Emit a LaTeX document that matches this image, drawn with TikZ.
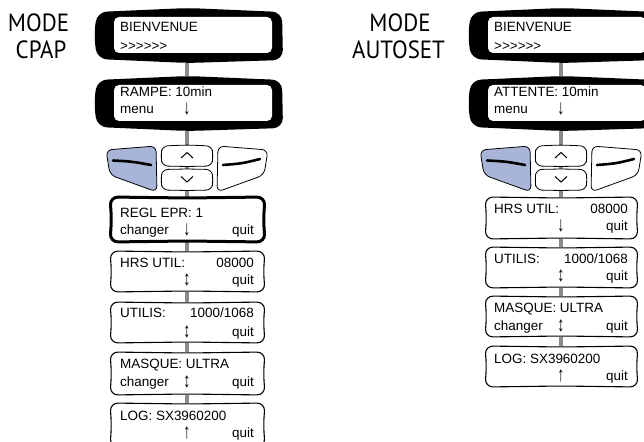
\documentclass[tikz,border=0pt]{standalone}
\usepackage{graphicx}
\usepackage{fontspec}
\setmainfont{Liberation Sans}
\newfontfamily\headfont{PT Sans}
\usetikzlibrary{fit}
\pgfdeclarelayer{bg}
\pgfsetlayers{bg,main}
\definecolor{keyblue}{RGB}{168,180,216}
\definecolor{linkgray}{RGB}{140,140,140}
\newcommand\arr[1]{\scalebox{1.05}[1.55]{#1}}
\newcommand\gts{>\kern0pt>\kern0pt>\kern0pt>\kern0pt>\kern0pt>}
\tikzset{
  lcd/.style={font=\fontsize{13.5}{16}\selectfont, inner sep=0pt},
  lt/.style={lcd, anchor=base west},
  rt/.style={lcd, anchor=base east},
  ct/.style={lcd, anchor=base},
  heading/.style={font=\headfont\fontsize{25}{28}\selectfont, inner sep=0pt, anchor=base, xscale=0.92},
  frame/.style={draw=none, inner sep=0pt, rectangle},
  link/.style={draw=linkgray, line width=4.5bp},
  bezel/.style={fill=black, rounded corners=10bp},
  face/.style={fill=white, rounded corners=5bp},
  panel/.style={draw=black, fill=white, line width=1.1bp, rounded corners=8bp},
  panelbold/.style={panel, line width=3bp},
  key/.style={draw=black, line width=0.8bp, rounded corners=6bp},
  bar/.style={line width=2.6bp, line cap=round},
  chev/.style={line width=1bp},
}
\newcommand\lcdscreen[3]{%
  \path[bezel] ({#2+2},{#3+4}) -- ({#2+93},{#3}) -- ({#2+187},{#3+4}) -- ({#2+188},{#3+52})
     -- ({#2+93},{#3+55}) -- ({#2+2},{#3+51}) -- ({#2-1},{#3+27}) -- cycle;
  \path[face] ({#2+19},{#3+9}) rectangle ({#2+177},{#3+45});
  \node[frame, fit={(#2,#3) ({#2+187},{#3+55})}] (#1) {};
}
\newcommand\infopanel[6]{%
  \path[#1] (#3,#4) -- ({(#3+#5)/2},{#4+1}) -- (#5,#4) -- ({#5-1.5},{(#4+#6)/2}) -- (#5,#6)
     -- ({(#3+#5)/2},{#6-1}) -- (#3,#6) -- ({#3+1.5},{(#4+#6)/2}) -- cycle;
  \node[frame, fit={(#3,#4) (#5,#6)}] (#2) {};
}
\newcommand\keypad[1]{%
  \path[key, fill=keyblue] (106,150) -- (156,146) -- (157,192) -- (110,175) -- cycle;
  \node[frame, fit={(106,146) (157,192)}] (#1l) {};
  \draw[bar] (113,160.5) .. controls (132,161.5) .. (151,165);
  \path[key, fill=white] (268,150) -- (218,146) -- (217,192) -- (264,175) -- cycle;
  \node[frame, fit={(217,146) (268,192)}] (#1r) {};
  \draw[bar] (223,165) .. controls (242,163.5) .. (260,159);
  \path[key, fill=white] (162,146) -- (187,145) -- (212,146) -- (213,156) -- (212,166)
     -- (187,166.5) -- (162,166) -- (161,156) -- cycle;
  \node[frame, fit={(161,145) (213,166.5)}] (#1u) {};
  \draw[chev] (181,158) -- (187,152.5) -- (193,158);
  \path[key, fill=white] (162,169.5) -- (187,169) -- (212,169.5) -- (213,180) -- (212,190)
     -- (187,190.5) -- (162,190) -- (161,180) -- cycle;
  \node[frame, fit={(161,169) (213,190.5)}] (#1d) {};
  \draw[chev] (181,176.5) -- (187,182) -- (193,176.5);
}
\begin{document}
\begin{tikzpicture}[x=1bp,y=-1bp]
\useasboundingbox (0,0) rectangle (644,442);
\clip (0,0) rectangle (644,442);

% headings
\node[heading] (hA1) at (38.5,32) {MODE};
\node[heading] (hA2) at (41,58.5) {CPAP};
\node[heading] (hB1) at (400,32) {MODE};
\node[heading] (hB2) at (398.5,58.5) {AUTOSET};

% ---------- left column (CPAP)
\lcdscreen{sA1}{95}{8}
\lcdscreen{sA2}{95}{76}
\keypad{kA}
\infopanel{panelbold}{pA1}{110}{197}{265}{242}
\infopanel{panel}{pA2}{110}{251}{265}{292}
\infopanel{panel}{pA3}{110}{302}{265}{343}
\infopanel{panel}{pA4}{110}{352}{265}{395}
\infopanel{panel}{pA5}{110}{403}{265}{447}

\node[lt] (tA1a) at (120,32) {BIENVENUE};
\node[lt] (tA1b) at (120,51) {\gts};
\node[lt] (tA2a) at (120,97) {RAMPE: 10min};
\node[lt] (tA2b) at (120,114) {menu};
\node[ct] (tA2c) at (187,115) {\arr{↓}};
\node[lt] (tA3a) at (120,218) {REGL EPR: 1};
\node[lt] (tA3b) at (120,235) {changer};
\node[ct] (tA3c) at (187,236) {\arr{↓}};
\node[rt] (tA3d) at (254,235) {quit};
\node[lt] (tA4a) at (120,268) {HRS UTIL:};
\node[rt] (tA4b) at (254,268) {08000};
\node[ct] (tA4c) at (187,286) {\arr{↕}};
\node[rt] (tA4d) at (254,285) {quit};
\node[lt] (tA5a) at (120,318) {UTILIS:};
\node[rt] (tA5b) at (254,318) {1000/1068};
\node[ct] (tA5c) at (187,337) {\arr{↕}};
\node[rt] (tA5d) at (254,336) {quit};
\node[lt] (tA6a) at (120,368) {MASQUE: ULTRA};
\node[lt] (tA6b) at (120,386) {changer};
\node[ct] (tA6c) at (187,387) {\arr{↕}};
\node[rt] (tA6d) at (254,386) {quit};
\node[lt] (tA7a) at (120,420) {LOG: SX3960200};
\node[ct] (tA7c) at (187,438) {\arr{↑}};
\node[rt] (tA7d) at (254,437) {quit};

% ---------- right column (AUTOSET)
\begin{scope}[xshift=374bp]
\lcdscreen{sB1}{95}{8}
\lcdscreen{sB2}{95}{76}
\keypad{kB}
\infopanel{panel}{pB1}{111}{197}{264}{239}
\infopanel{panel}{pB2}{111}{247}{264}{288}
\infopanel{panel}{pB3}{111}{296}{264}{337}
\infopanel{panel}{pB4}{111}{346}{264}{387}

\node[lt] (tB1a) at (120,32) {BIENVENUE};
\node[lt] (tB1b) at (120,51) {\gts};
\node[lt] (tB2a) at (120,97) {ATTENTE: 10min};
\node[lt] (tB2b) at (120,114) {menu};
\node[ct] (tB2c) at (187,115) {\arr{↓}};
\node[lt] (tB3a) at (120,214) {HRS UTIL:};
\node[rt] (tB3b) at (254,214) {08000};
\node[ct] (tB3c) at (187,232) {\arr{↓}};
\node[rt] (tB3d) at (254,231) {quit};
\node[lt] (tB4a) at (120,264) {UTILIS:};
\node[rt] (tB4b) at (254,264) {1000/1068};
\node[ct] (tB4c) at (187,282) {\arr{↕}};
\node[rt] (tB4d) at (254,281) {quit};
\node[lt] (tB5a) at (120,313) {MASQUE: ULTRA};
\node[lt] (tB5b) at (120,330) {changer};
\node[ct] (tB5c) at (187,331) {\arr{↕}};
\node[rt] (tB5d) at (254,330) {quit};
\node[lt] (tB6a) at (120,363) {LOG: SX3960200};
\node[ct] (tB6c) at (187,381) {\arr{↑}};
\node[rt] (tB6d) at (254,380) {quit};
\end{scope}

% ---------- connectors (behind)
\begin{pgfonlayer}{bg}
\foreach \a/\b in {sA1/sA2, sA2/kAu, kAu/kAd, kAd/pA1, pA1/pA2, pA2/pA3, pA3/pA4, pA4/pA5}
  \draw[link] (\a.south -| kAu.center) -- (\b.north -| kAu.center);
\foreach \a/\b in {sB1/sB2, sB2/kBu, kBu/kBd, kBd/pB1, pB1/pB2, pB2/pB3, pB3/pB4}
  \draw[link] (\a.south -| kBu.center) -- (\b.north -| kBu.center);
\end{pgfonlayer}
\end{tikzpicture}
\end{document}
